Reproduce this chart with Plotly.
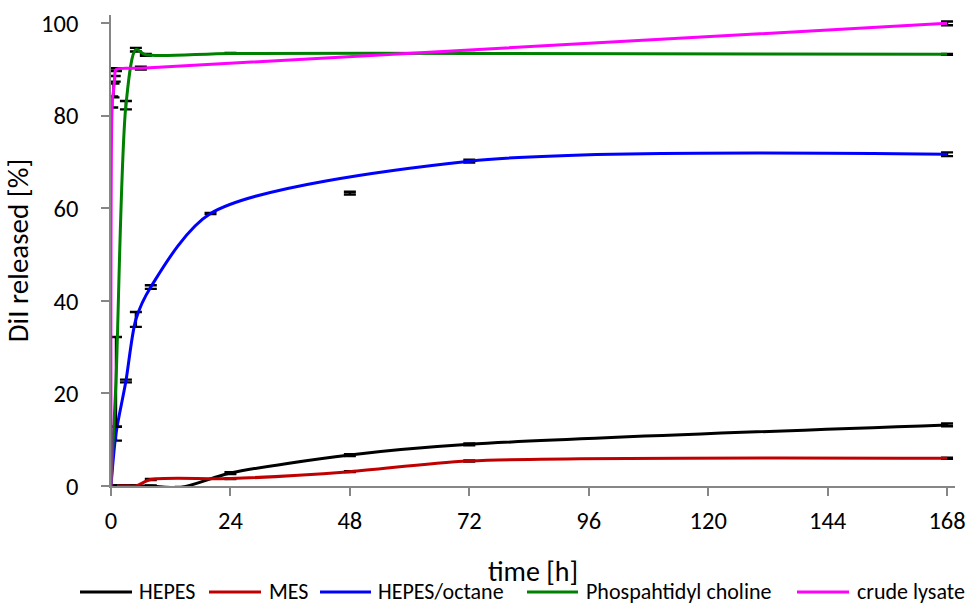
import plotly.graph_objects as go

# Release kinetics of DiI (% released) over time (h), mean with error
hepes_t = [0, 1, 3, 5, 8, 14, 24, 48, 72, 168]
hepes_y = [0, 0, 0, 0, 0, -0.3, 2.8, 6.7, 9.0, 13.2]
hepes_e = [0.1, 0.1, 0.1, 0.1, 0.1, 0.1, 0.2, 0.2, 0.2, 0.3]

mes_t = [0, 1, 3, 5, 8, 24, 48, 72, 168]
mes_y = [0, 0, 0, 0, 1.4, 1.6, 3.1, 5.4, 6.0]
mes_e = [0.1, 0.1, 0.1, 0.1, 0.1, 0.1, 0.1, 0.1, 0.1]

octane_t = [0, 1, 3, 5, 8, 20, 72, 168]
octane_y = [0, 11.3, 22.7, 36.0, 43.0, 58.9, 70.2, 71.7]
octane_e = [0.1, 1.5, 0.3, 1.6, 0.4, 0.1, 0.3, 0.4]

pc_t = [0, 1, 3, 5, 7, 24, 72, 168]
pc_y = [0, 22.5, 82.3, 94.3, 93.2, 93.5, 93.5, 93.3]
pc_e = [0.1, 9.7, 0.9, 0.4, 0.2, 0.1, 0.1, 0.1]

lysate_t = [0, 0.25, 0.5, 0.75, 1, 6, 168]
lysate_y = [0, 83.0, 85.5, 88.0, 90.0, 90.3, 100.0]
lysate_e = [0.1, 1.2, 1.5, 0.6, 0.3, 0.3, 0.4]

# single replicate value plotted without a line
extra_t = [48]
extra_y = [63.3]
extra_e = [0.3]

names = ["HEPES", "MES", "HEPES/octane", "Phospahtidyl choline", "crude lysate"]
colors = ["#000000", "#C00000", "#0000FF", "#008000", "#FF00FF"]
series = [
    (hepes_t, hepes_y, hepes_e),
    (mes_t, mes_y, mes_e),
    (octane_t, octane_y, octane_e),
    (pc_t, pc_y, pc_e),
    (lysate_t, lysate_y, lysate_e),
]

FONT = "Carlito, 'Liberation Sans Narrow', 'Arial Narrow', Lato, sans-serif"
AXIS_GREY = "#868686"
ERR = dict(type="data", visible=True, color="#000000", thickness=2.4, width=6)

W, H = 969, 605
ML, MR, MT, MB = 111, 14, 15, 119

fig = go.Figure()
for name, color, (t, y, e) in zip(names, colors, series):
    fig.add_trace(go.Scatter(
        x=t, y=y, name=name, mode="lines",
        line=dict(color=color, width=3, shape="spline", smoothing=0.8),
        error_y=dict(array=e, **ERR),
    ))

fig.add_trace(go.Scatter(
    x=extra_t, y=extra_y, mode="markers", showlegend=False,
    marker=dict(size=1, color="rgba(0,0,0,0)"),
    error_y=dict(array=extra_e, **ERR),
))

# Legend row below the axis title: swatch line + label per series
plot_w = W - ML - MR
plot_h = H - MT - MB
def px_to_paper_x(px):
    return (px - ML) / plot_w
def px_to_paper_y(py):
    return (H - MB - py) / plot_h

legend_line_px = [(80, 132), (209, 261), (320, 371), (527, 578), (797, 849)]
legend_text_px = [137, 267, 376, 584, 855]
legend_y_px = 592
for name, color, (x0, x1), tx in zip(names, colors, legend_line_px, legend_text_px):
    fig.add_shape(type="line", xref="paper", yref="paper",
                  x0=px_to_paper_x(x0), x1=px_to_paper_x(x1),
                  y0=px_to_paper_y(legend_y_px), y1=px_to_paper_y(legend_y_px),
                  line=dict(color=color, width=3))
    fig.add_annotation(text=name, xref="paper", yref="paper",
                       x=px_to_paper_x(tx), y=px_to_paper_y(legend_y_px - 1),
                       xanchor="left", yanchor="middle", showarrow=False,
                       font=dict(size=22, color="#000000"))

fig.update_layout(
    width=W, height=H,
    margin=dict(l=ML, r=MR, t=MT, b=MB),
    paper_bgcolor="white", plot_bgcolor="white",
    font=dict(family=FONT, size=24, color="#000000"),
    showlegend=False,
)
fig.update_xaxes(
    range=[0, 169.6], tickvals=[0, 24, 48, 72, 96, 120, 144, 168],
    showgrid=False, zeroline=False, showline=True, linecolor=AXIS_GREY,
    linewidth=1.5, ticks="outside", tickcolor=AXIS_GREY, ticklen=8, tickwidth=1.5,
    tickfont=dict(size=24.5), ticklabelstandoff=4, automargin=False,
    title=dict(text="time [h]", font=dict(size=28), standoff=26),
)
fig.update_yaxes(
    range=[0, 101.8], tickvals=[0, 20, 40, 60, 80, 100],
    showgrid=False, zeroline=False, showline=True, linecolor=AXIS_GREY,
    linewidth=1.5, ticks="outside", tickcolor=AXIS_GREY, ticklen=8, tickwidth=1.5,
    tickfont=dict(size=24.5), ticklabelstandoff=18, automargin=False,
    title=dict(text="DiI released [%]", font=dict(size=29), standoff=10),
)

fig.write_html("out.html")
